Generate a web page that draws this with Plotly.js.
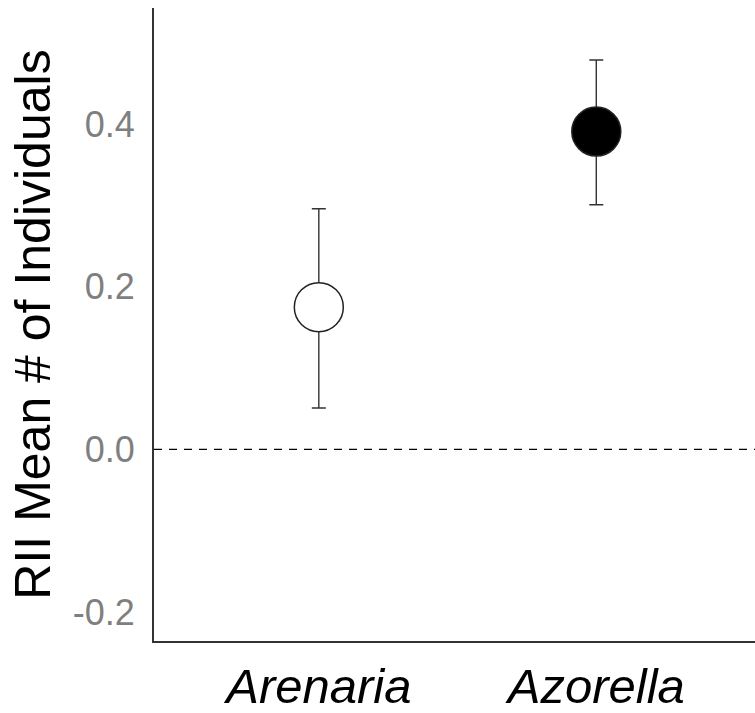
<!DOCTYPE html>
<html>
<head>
<meta charset="utf-8">
<script src="https://cdn.plot.ly/plotly-3.0.1.min.js"></script>
<style>html,body{margin:0;padding:0;background:#fff;}</style>
</head>
<body>
<div id="chart" style="width:755px;height:713px;"></div>
<script>
// Data
const categories = ['Arenaria', 'Azorella'];
const meanRII = [0.175, 0.391];
const upperCI = [0.296, 0.479];
const lowerCI = [0.051, 0.301];
const markerFill = ['white', 'black'];
const yTickValues = [-0.2, 0.0, 0.2, 0.4];
const yTickLabels = ['-0.2', '0.0', '0.2', '0.4'];

const errPlus = meanRII.map((m, i) => upperCI[i] - m);
const errMinus = meanRII.map((m, i) => m - lowerCI[i]);

const trace = {
  type: 'scatter',
  mode: 'markers',
  x: categories,
  y: meanRII,
  marker: {
    size: 49,
    color: markerFill,
    line: {color: '#222', width: 1.5}
  },
  error_y: {
    type: 'data',
    symmetric: false,
    array: errPlus,
    arrayminus: errMinus,
    color: '#333',
    thickness: 1.4,
    width: 7
  },
  hoverinfo: 'skip',
  showlegend: false
};

const layout = {
  width: 755,
  height: 713,
  margin: {l: 154, r: 0, t: 8, b: 72, pad: 0},
  paper_bgcolor: 'white',
  plot_bgcolor: 'white',
  font: {family: '"Liberation Sans", Arial, sans-serif'},
  xaxis: {
    type: 'category',
    range: [-0.594, 1.572],
    showgrid: false,
    zeroline: false,
    showline: true,
    linecolor: '#333',
    linewidth: 2,
    ticks: '',
    ticklabelstandoff: 1,
    tickfont: {size: 49, color: 'black', style: 'italic', family: '"Liberation Sans", Arial, sans-serif'}
  },
  yaxis: {
    range: [-0.2357, 0.543],
    showgrid: false,
    zeroline: false,
    showline: true,
    linecolor: '#333',
    linewidth: 2,
    ticks: '',
    tickvals: yTickValues,
    ticktext: yTickLabels,
    ticklabelstandoff: 10,
    tickfont: {size: 36, color: '#7f7f7f'},
    title: {
      text: 'RII Mean # of Individuals',
      font: {size: 50, color: 'black'},
      standoff: 6
    }
  },
  shapes: [{
    type: 'line',
    xref: 'paper', yref: 'y',
    x0: 0, x1: 1, y0: 0, y1: 0,
    line: {color: 'black', width: 1.2, dash: '8px,7px'}
  }]
};

Plotly.newPlot('chart', [trace], layout, {displayModeBar: false, staticPlot: true});
</script>
</body>
</html>
